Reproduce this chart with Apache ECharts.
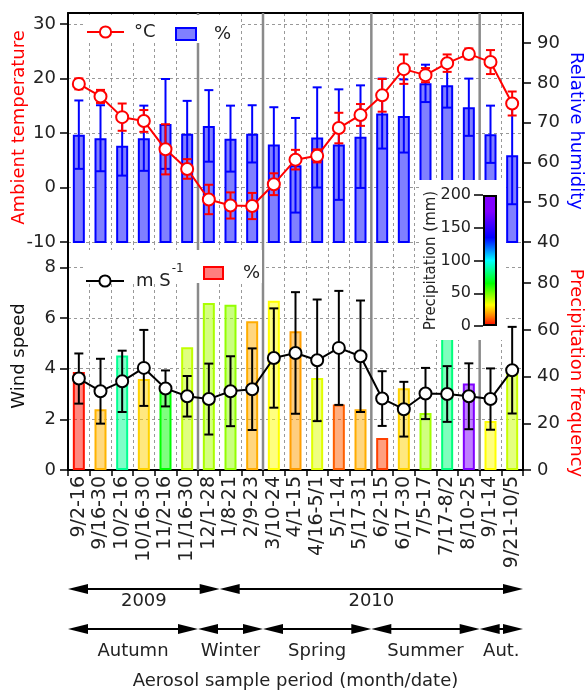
<!DOCTYPE html>
<html><head><meta charset="utf-8">
<script src="https://cdn.jsdelivr.net/npm/echarts@6/dist/echarts.min.js"></script>
<style>html,body{margin:0;padding:0;background:#fff}#c{width:588px;height:696px}</style>
</head><body><div id="c"></div>
<script>
const categories = ['9/2-16','9/16-30','10/2-16','10/16-30','11/2-16','11/16-30','12/1-28','1/8-21','2/9-23','3/10-24','4/1-15','4/16-5/1','5/1-14','5/17-31','6/2-15','6/17-30','7/5-17','7/17-8/2','8/10-25','9/1-14','9/21-10/5'];
const tempMean = [19.0,16.7,12.9,12.2,7.0,3.4,-2.2,-3.3,-3.4,0.6,5.1,5.8,10.9,13.3,16.9,21.7,20.6,22.8,24.5,23.0,15.4];
const tempSd = [1.0,1.2,2.5,2.0,4.6,1.8,2.7,2.4,2.4,2.0,1.8,1.2,2.8,2.0,3.0,2.7,1.3,1.6,1.0,2.2,2.2];
const rhMean = [67.0,66.1,64.2,66.1,69.7,67.2,69.2,66.0,67.2,64.5,59.3,66.3,64.5,66.5,72.3,71.7,79.9,79.4,73.9,67.1,61.8];
const rhSd = [8.6,8.3,7.5,8.2,11.3,8.3,9.0,8.3,7.2,9.4,11.9,12.6,13.9,12.9,8.8,9.2,4.7,5.6,7.2,7.2,12.3];
const windMean = [3.61,3.11,3.50,4.03,3.22,2.91,2.80,3.11,3.19,4.42,4.62,4.33,4.82,4.49,2.82,2.40,3.02,3.00,2.91,2.80,3.94];
const windSd = [0.99,1.28,1.21,1.50,0.71,0.80,1.40,1.38,1.61,1.96,2.40,2.40,2.25,2.20,1.08,1.08,1.01,1.10,1.30,1.21,1.71];
const precipFreq = [42,26,49,39,35,52.5,71.5,70.7,63.7,72.4,59.4,39.4,28,26,13.7,35,24.4,62,37,21,42];
const precipMm = [2,22,85,26,65,40,43,46,21,32,19,36,11,21,7.5,26,44,82,190,32,39];
const tempTicks = [-10,0,10,20,30];
const rhTicks = [40,50,60,70,80,90];
const windTicks = [0,2,4,6,8];
const freqTicks = [0,20,40,60,80];
const precipTicks = [0,50,100,150,200];
const colorStops = [[0,'#ff0000'],[15,'#ff8000'],[32,'#ffff00'],[65,'#00ff00'],[100,'#00ffff'],[135,'#0000ff'],[175,'#8000ff'],[200,'#8000ff']];
const years = [['2009',0,7],['2010',7,21]];
const seasons = [['Autumn',0,6],['Winter',6,9],['Spring',9,14],['Summer',14,19],['Aut.',19,21]];

const FONT = 'DejaVu Sans';
function hex2rgb(h){return [parseInt(h.slice(1,3),16),parseInt(h.slice(3,5),16),parseInt(h.slice(5,7),16)];}
function cmap(v){
  for (let i=1;i<colorStops.length;i++){
    const v0=colorStops[i-1][0], v1=colorStops[i][0];
    if (v<=v1){
      const t=(v-v0)/(v1-v0), a=hex2rgb(colorStops[i-1][1]), b=hex2rgb(colorStops[i][1]);
      return a.map((x,k)=>Math.round(x+(b[k]-x)*t));
    }
  }
  return hex2rgb(colorStops[colorStops.length-1][1]);
}
function errBar(color, cap, lw){
  return function(params, api){
    const x=api.value(0), m=api.value(1), s=api.value(2);
    const p1=api.coord([x,m-s]), p2=api.coord([x,m+s]);
    const h=cap/2, st={stroke:color,lineWidth:lw};
    return {type:'group',children:[
      {type:'line',shape:{x1:p1[0],y1:p1[1],x2:p2[0],y2:p2[1]},style:st},
      {type:'line',shape:{x1:p1[0]-h,y1:p1[1],x2:p1[0]+h,y2:p1[1]},style:st},
      {type:'line',shape:{x1:p2[0]-h,y1:p2[1],x2:p2[0]+h,y2:p2[1]},style:st}]};
  };
}
function seasonLine(params, api){
  const c=api.coord([api.value(0), api.value(1)]);
  const bw=api.size([1,0])[0];
  const x=c[0]-bw/2, cs=params.coordSys;
  return {type:'line',shape:{x1:x,y1:cs.y,x2:x,y2:cs.y+cs.height},style:{stroke:'#8a8a8a',lineWidth:2.5}};
}
function arrowRender(list, textOffset){
  return function(params, api){
    const a=api.coord([api.value(0), api.value(2)]), b=api.coord([api.value(1), api.value(2)]);
    const y=a[1], L=20, W=5;
    return {type:'group',children:[
      {type:'line',shape:{x1:a[0]+L-2,y1:y,x2:b[0]-L+2,y2:y},style:{stroke:'#000',lineWidth:2}},
      {type:'polygon',shape:{points:[[a[0],y],[a[0]+L,y-W],[a[0]+L,y+W]]},style:{fill:'#000'}},
      {type:'polygon',shape:{points:[[b[0],y],[b[0]-L,y-W],[b[0]-L,y+W]]},style:{fill:'#000'}},
      {type:'text',x:(a[0]+b[0])/2,y:y+textOffset,style:{text:list[params.dataIndex][0],align:'center',verticalAlign:'top',fontSize:18,fontFamily:FONT,fill:'#222'}}
    ]};
  };
}

const pfData = precipFreq.map((v,i)=>{
  const c=cmap(precipMm[i]);
  return {value:v,itemStyle:{color:'rgba('+c.join(',')+',0.5)',borderColor:'rgb('+c.join(',')+')'}};
});
const gradStops = colorStops.map(s=>({offset:s[0]/200,color:s[1]}));

const dash = {color:'#999',type:[3,3],width:1};
const axLine = {show:true,onZero:false,lineStyle:{color:'#000',width:2}};
const lbl = {fontSize:18,color:'#222',fontFamily:FONT};

const option = {
  animation:false,
  textStyle:{fontFamily:FONT},
  grid:[
    {left:68,top:13,width:455,height:229,outerBoundsMode:'none'},
    {left:68,top:242,width:455,height:228,outerBoundsMode:'none'},
    {left:483,top:195,width:14,height:131,outerBoundsMode:'none'},
    {left:68,top:589,width:455,height:40,outerBoundsMode:'none'}
  ],
  xAxis:[
    {gridIndex:0,type:'category',data:categories,position:'top',axisLine:axLine,axisTick:{show:false},axisLabel:{show:false},splitLine:{show:true,interval:0,lineStyle:dash}},
    {gridIndex:1,type:'category',data:categories,position:'bottom',axisLine:axLine,
     axisTick:{show:true,interval:0,length:6,lineStyle:{color:'#000',width:1.5}},
     axisLabel:{interval:0,rotate:90,fontSize:19,color:'#222',margin:6,fontFamily:FONT},
     splitLine:{show:true,interval:0,lineStyle:dash},
     name:'Aerosol sample period (month/date)',nameLocation:'middle',nameGap:202,nameMoveOverlap:false,
     nameTextStyle:{fontSize:18,color:'#222',fontFamily:FONT}},
    {gridIndex:2,type:'category',data:[''],show:false},
    {gridIndex:3,type:'value',min:0,max:21,show:false}
  ],
  yAxis:[
    {gridIndex:0,type:'value',min:-10,max:32,position:'left',axisLine:axLine,
     axisTick:{show:true,length:8,customValues:tempTicks,lineStyle:{color:'#000',width:1.5}},
     axisLabel:Object.assign({customValues:tempTicks,margin:12},lbl),
     splitLine:{show:true,lineStyle:dash},
     name:'Ambient temperature',nameLocation:'middle',nameRotate:90,nameGap:40,nameMoveOverlap:false,
     nameTextStyle:{color:'#ff0000',fontSize:18,fontFamily:FONT}},
    {gridIndex:0,type:'value',min:40,max:97.6,position:'right',axisLine:axLine,
     axisTick:{show:true,length:8,customValues:rhTicks,lineStyle:{color:'#000',width:1.5}},
     axisLabel:Object.assign({customValues:rhTicks,margin:14},lbl),
     splitLine:{show:false},
     name:'Relative humidity',nameLocation:'middle',nameRotate:-90,nameGap:44,nameMoveOverlap:false,
     nameTextStyle:{color:'#0000ff',fontSize:18,fontFamily:FONT,padding:[0,0,0,7]}},
    {gridIndex:1,type:'value',min:0,max:9,position:'left',axisLine:axLine,
     axisTick:{show:true,length:8,customValues:windTicks,lineStyle:{color:'#000',width:1.5}},
     axisLabel:Object.assign({customValues:windTicks,margin:12},lbl),
     splitLine:{show:true,lineStyle:dash},
     name:'Wind speed',nameLocation:'middle',nameRotate:90,nameGap:40,nameMoveOverlap:false,
     nameTextStyle:{color:'#111',fontSize:18,fontFamily:FONT}},
    {gridIndex:1,type:'value',min:0,max:97.6,position:'right',axisLine:axLine,
     axisTick:{show:true,length:8,customValues:freqTicks,lineStyle:{color:'#000',width:1.5}},
     axisLabel:Object.assign({customValues:freqTicks,margin:14},lbl),
     splitLine:{show:false},
     name:'Precipitation frequency',nameLocation:'middle',nameRotate:-90,nameGap:44,nameMoveOverlap:false,
     nameTextStyle:{color:'#ff0000',fontSize:18,fontFamily:FONT,padding:[0,0,0,34]}},
    {gridIndex:2,type:'value',min:0,max:200,position:'left',z:40,axisLine:{show:false},
     axisTick:{show:true,length:9,customValues:precipTicks,lineStyle:{color:'#000',width:1.5}},
     axisLabel:{customValues:precipTicks,margin:12,fontSize:16,color:'#222',fontFamily:FONT},
     splitLine:{show:false},
     name:'Precipitation (mm)',nameLocation:'middle',nameRotate:90,nameGap:44,nameMoveOverlap:false,
     nameTextStyle:{color:'#222',fontSize:15,fontFamily:FONT}},
    {gridIndex:3,type:'value',min:0,max:1,show:false}
  ],
  legend:[
    {data:['°C'],left:86,top:23,itemWidth:37,itemHeight:14,padding:0,z:20,selectedMode:false,
     textStyle:{fontSize:18,color:'#222',fontFamily:FONT,padding:[0,0,0,5]}},
    {data:[{name:'RH',icon:'rect'}],left:175,top:25,itemWidth:20,itemHeight:12,padding:0,z:20,selectedMode:false,
     formatter:()=>'%',textStyle:{fontSize:18,color:'#222',fontFamily:FONT,padding:[0,0,0,13]}},
    {data:['WS'],left:85,top:263,itemWidth:38,itemHeight:14,padding:0,z:20,selectedMode:false,
     formatter:()=>'{a|m S}{b|-1}',
     textStyle:{padding:[0,0,0,7],rich:{
       a:{fontSize:18,color:'#222',fontFamily:FONT,verticalAlign:'bottom',padding:[0,0,9,0]},
       b:{fontSize:12,color:'#222',fontFamily:FONT,verticalAlign:'bottom',padding:[0,0,24,1]}}}},
    {data:[{name:'PF',icon:'rect'}],left:203,top:264,itemWidth:19,itemHeight:12,padding:0,z:20,selectedMode:false,
     formatter:()=>'%',textStyle:{fontSize:18,color:'#222',fontFamily:FONT,padding:[0,0,0,15]}}
  ],
  graphic:{elements:[
    {type:'rect',shape:{x:84,y:15,width:156,height:28},style:{fill:'#fff'},z:10,silent:true},
    {type:'rect',shape:{x:84,y:250,width:178,height:33},style:{fill:'#fff'},z:10,silent:true},
    {type:'rect',shape:{x:419,y:180,width:84,height:160},style:{fill:'#fff'},z:30,silent:true}
  ]},
  series:[
    {type:'custom',xAxisIndex:0,yAxisIndex:0,z:1,silent:true,renderItem:seasonLine,data:seasons.slice(1).map(s=>[s[1],0])},
    {type:'custom',xAxisIndex:1,yAxisIndex:2,z:1,silent:true,renderItem:seasonLine,data:seasons.slice(1).map(s=>[s[1],0])},
    {name:'RH',type:'bar',xAxisIndex:0,yAxisIndex:1,barWidth:12,z:2,data:rhMean,
     itemStyle:{color:'#8080ff',borderColor:'#0000ff',borderWidth:2}},
    {type:'custom',xAxisIndex:0,yAxisIndex:1,z:3,silent:true,renderItem:errBar('#0000ff',9,2),
     data:rhMean.map((m,i)=>[i,m,rhSd[i]])},
    {type:'custom',xAxisIndex:0,yAxisIndex:0,z:4,silent:true,renderItem:errBar('#ff0000',9,2),
     data:tempMean.map((m,i)=>[i,m,tempSd[i]])},
    {name:'°C',type:'line',xAxisIndex:0,yAxisIndex:0,z:5,data:tempMean,symbol:'circle',symbolSize:12,
     lineStyle:{color:'#ff0000',width:2},itemStyle:{color:'#ffffff',borderColor:'#ff0000',borderWidth:2}},
    {name:'PF',type:'bar',xAxisIndex:1,yAxisIndex:3,barWidth:12,z:2,data:pfData,
     itemStyle:{color:'rgba(255,0,0,0.5)',borderColor:'#ff0000',borderWidth:2}},
    {type:'custom',xAxisIndex:1,yAxisIndex:2,z:4,silent:true,renderItem:errBar('#000000',9,2),
     data:windMean.map((m,i)=>[i,m,windSd[i]])},
    {name:'WS',type:'line',xAxisIndex:1,yAxisIndex:2,z:5,data:windMean,symbol:'circle',symbolSize:12,
     lineStyle:{color:'#000',width:2},itemStyle:{color:'#ffffff',borderColor:'#000',borderWidth:2}},
    {type:'bar',xAxisIndex:2,yAxisIndex:4,z:40,barWidth:'100%',data:[200],silent:true,
     itemStyle:{borderColor:'#000',borderWidth:2,color:new echarts.graphic.LinearGradient(0,1,0,0,gradStops)}},
    {type:'custom',xAxisIndex:3,yAxisIndex:5,silent:true,renderItem:arrowRender(years,3),data:years.map(y=>[y[1],y[2],1])},
    {type:'custom',xAxisIndex:3,yAxisIndex:5,silent:true,renderItem:arrowRender(seasons,13),data:seasons.map(s=>[s[1],s[2],0])}
  ]
};
const chart = echarts.init(document.getElementById('c'),null,{renderer:'canvas'});
chart.setOption(option);
</script></body></html>
